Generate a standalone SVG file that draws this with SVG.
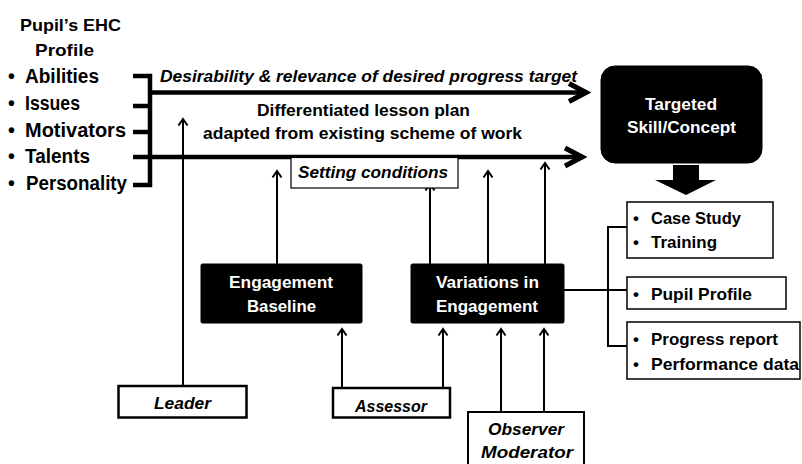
<svg xmlns="http://www.w3.org/2000/svg" width="802" height="464" viewBox="0 0 802 464">
<style>
text{font-family:"Liberation Sans",Arial,sans-serif;font-weight:bold;font-size:17px;fill:#000}
.it{font-style:italic}
.w{fill:#fff}
.c{text-anchor:middle}
.lst{font-size:19.5px}
.thin{stroke:#000;stroke-width:2;fill:none}
.thick{stroke:#000;stroke-width:4.5;fill:none}
.box{fill:#fff;stroke:#000}
.blk{fill:#000;stroke:#000}
</style>
<defs>
<marker id="ah" viewBox="0 0 12 12" refX="10" refY="6" markerWidth="12" markerHeight="12" markerUnits="userSpaceOnUse" orient="auto">
<path d="M3.5,1.5 L10,6 L3.5,10.5" fill="none" stroke="#000" stroke-width="2"/>
</marker>
<marker id="AH" viewBox="0 0 26 26" refX="22" refY="13" markerWidth="26" markerHeight="26" markerUnits="userSpaceOnUse" orient="auto">
<path d="M4,4 L21,13 L4,22" fill="none" stroke="#000" stroke-width="5"/>
</marker>
</defs>

<g id="profile">
<text class="c" x="70.5" y="30.5" font-size="19.5" textLength="101" lengthAdjust="spacingAndGlyphs">Pupil’s EHC</text>
<text class="c" x="64.5" y="56" font-size="19.5" textLength="59" lengthAdjust="spacingAndGlyphs">Profile</text>
<text class="lst" x="8" y="83">•</text><text class="lst" x="25" y="83" textLength="74" lengthAdjust="spacingAndGlyphs">Abilities</text>
<text class="lst" x="8" y="110">•</text><text class="lst" x="25" y="110" textLength="55" lengthAdjust="spacingAndGlyphs">Issues</text>
<text class="lst" x="8" y="137">•</text><text class="lst" x="25" y="137" textLength="101" lengthAdjust="spacingAndGlyphs">Motivators</text>
<text class="lst" x="8" y="163">•</text><text class="lst" x="25" y="163" textLength="65" lengthAdjust="spacingAndGlyphs">Talents</text>
<text class="lst" x="8" y="190">•</text><text class="lst" x="26" y="190" textLength="101" lengthAdjust="spacingAndGlyphs">Personality</text>
</g>

<g id="connectors">
<path class="thick" d="M133,76 H150 V185 H133" stroke-width="4"/>
<line class="thick" x1="133" y1="106" x2="150" y2="106" stroke-width="4"/>
<line class="thick" x1="133" y1="132" x2="150" y2="132" stroke-width="4"/>
<line class="thick" x1="150" y1="92.5" x2="587" y2="92.5" marker-end="url(#AH)"/>
<line class="thick" x1="133" y1="157" x2="583" y2="157" marker-end="url(#AH)"/>
<line class="thin" x1="183" y1="386" x2="183" y2="119" marker-end="url(#ah)"/>
<line class="thin" x1="277" y1="264" x2="277" y2="171" marker-end="url(#ah)"/>
<line class="thin" x1="430" y1="264" x2="430" y2="184" marker-end="url(#ah)"/>
<line class="thin" x1="488" y1="264" x2="488" y2="171" marker-end="url(#ah)"/>
<line class="thin" x1="545" y1="264" x2="545" y2="163" marker-end="url(#ah)"/>
<line class="thin" x1="342" y1="388" x2="342" y2="329" marker-end="url(#ah)"/>
<line class="thin" x1="443" y1="388" x2="443" y2="329" marker-end="url(#ah)"/>
<line class="thin" x1="501" y1="412" x2="501" y2="329" marker-end="url(#ah)"/>
<line class="thin" x1="544" y1="412" x2="544" y2="329" marker-end="url(#ah)"/>
<line class="thin" x1="564" y1="290" x2="627" y2="290"/>
<path class="thin" d="M627,227 H608 V346 H627"/>
<polygon points="673,165 699,165 699,180 716,180 686,195 655,180 673,180" fill="#000"/>
</g>

<g id="desirability">
<text class="it" x="160" y="82" textLength="417" lengthAdjust="spacingAndGlyphs">Desirability &amp; relevance of desired progress target</text>
</g>

<g id="lesson-plan">
<text class="c" x="363.5" y="115.5" font-size="17.5" textLength="213" lengthAdjust="spacingAndGlyphs">Differentiated lesson plan</text>
<text class="c" x="362.5" y="139" font-size="17.5" textLength="319" lengthAdjust="spacingAndGlyphs">adapted from existing scheme of work</text>
</g>

<g id="setting-conditions">
<rect class="box" x="291" y="157.5" width="167" height="30.5" stroke-width="1.2"/>
<text class="it" x="298" y="178" textLength="150" lengthAdjust="spacingAndGlyphs">Setting conditions</text>
</g>

<g id="targeted">
<rect class="blk" x="601" y="66" width="161" height="97" rx="14"/>
<text class="c w" x="681" y="110" textLength="72" lengthAdjust="spacingAndGlyphs">Targeted</text>
<text class="c w" x="681.5" y="133" textLength="109" lengthAdjust="spacingAndGlyphs">Skill/Concept</text>
</g>

<g id="engagement-baseline">
<rect class="blk" x="201" y="264" width="161" height="59" rx="1.5"/>
<text class="c w" x="281" y="288" textLength="104" lengthAdjust="spacingAndGlyphs">Engagement</text>
<text class="c w" x="281.5" y="312" textLength="69" lengthAdjust="spacingAndGlyphs">Baseline</text>
</g>

<g id="variations">
<rect class="blk" x="411" y="264" width="153" height="59" rx="1.5"/>
<text class="c w" x="487.5" y="288" textLength="103" lengthAdjust="spacingAndGlyphs">Variations in</text>
<text class="c w" x="487" y="312" textLength="102" lengthAdjust="spacingAndGlyphs">Engagement</text>
</g>

<g id="case-study">
<rect class="box" x="627" y="202" width="146" height="56" stroke-width="1.5"/>
<text x="633" y="224">•</text><text x="651" y="224" textLength="90" lengthAdjust="spacingAndGlyphs">Case Study</text>
<text x="633" y="248">•</text><text x="651" y="248" textLength="66" lengthAdjust="spacingAndGlyphs">Training</text>
</g>

<g id="pupil-profile">
<rect class="box" x="627" y="277" width="159" height="32" stroke-width="1.5"/>
<text x="633" y="300">•</text><text x="651" y="300" textLength="101" lengthAdjust="spacingAndGlyphs">Pupil Profile</text>
</g>

<g id="progress">
<rect class="box" x="627" y="322" width="173" height="57" stroke-width="1.5"/>
<text x="633" y="345">•</text><text x="651" y="345" textLength="127" lengthAdjust="spacingAndGlyphs">Progress report</text>
<text x="633" y="370">•</text><text x="651" y="370" textLength="148" lengthAdjust="spacingAndGlyphs">Performance data</text>
</g>

<g id="leader">
<rect class="box" x="118.5" y="386" width="128" height="31.5" stroke-width="2.5"/>
<text class="c it" x="182.5" y="409" textLength="57" lengthAdjust="spacingAndGlyphs">Leader</text>
</g>

<g id="assessor">
<rect class="box" x="333" y="388" width="117" height="29.5" stroke-width="2.5"/>
<text class="c it" x="391" y="412" textLength="72" lengthAdjust="spacingAndGlyphs">Assessor</text>
</g>

<g id="observer">
<rect class="box" x="468" y="412" width="116" height="56" stroke-width="2"/>
<text class="c it" x="526" y="435" textLength="76" lengthAdjust="spacingAndGlyphs">Observer</text>
<text class="c it" x="527" y="458" textLength="92" lengthAdjust="spacingAndGlyphs">Moderator</text>
</g>
</svg>
